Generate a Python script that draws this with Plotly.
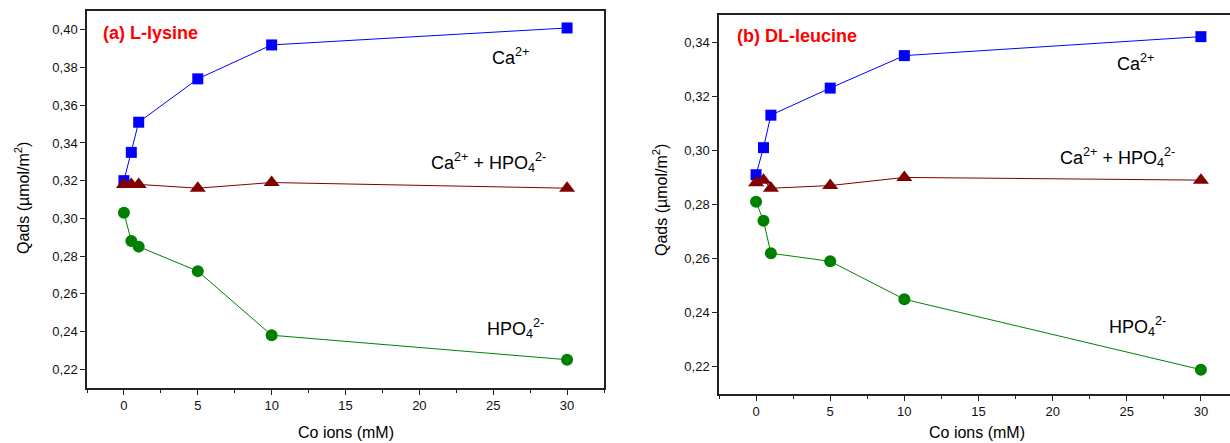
import plotly.graph_objects as go

# ---- data ----
x_conc = [0, 0.5, 1, 5, 10, 30]

lys_ca = [0.320, 0.335, 0.351, 0.374, 0.392, 0.401]
lys_cahpo = [0.318, 0.318, 0.318, 0.316, 0.319, 0.316]
lys_hpo = [0.303, 0.288, 0.285, 0.272, 0.238, 0.225]

leu_ca = [0.291, 0.301, 0.313, 0.323, 0.335, 0.342]
leu_cahpo = [0.288, 0.289, 0.286, 0.287, 0.290, 0.289]
leu_hpo = [0.281, 0.274, 0.262, 0.259, 0.245, 0.219]

series_names = ["Ca<sup>2+</sup>", "Ca<sup>2+</sup> + HPO<sub>4</sub><sup>2-</sup>", "HPO<sub>4</sub><sup>2-</sup>"]
panel_titles = ["(a) L-lysine", "(b) DL-leucine"]

W, H = 1230, 443
BLUE, RED, GREEN = "#0000FF", "#800000", "#008000"
FONT = "Liberation Sans, Arial, sans-serif"

fig = go.Figure()

def add_series(xa, ya, ys, color, symbol, size):
    fig.add_trace(go.Scatter(
        x=x_conc, y=ys, xaxis=xa, yaxis=ya, mode="lines+markers",
        line=dict(color=color, width=1),
        marker=dict(color=color, symbol=symbol, size=size, line=dict(width=0)),
        showlegend=False, cliponaxis=False))

for xa, ya, ca, cahpo, hpo in [("x", "y", lys_ca, lys_cahpo, lys_hpo),
                               ("x2", "y2", leu_ca, leu_cahpo, leu_hpo)]:
    add_series(xa, ya, ca, BLUE, "square", 11)
    add_series(xa, ya, cahpo, RED, "triangle-up", 14)
    add_series(xa, ya, hpo, GREEN, "circle", 12)

def px_x(p):
    return p / W

def px_y(p):
    return 1 - p / H

axis_common = dict(
    showline=True, linecolor="#222", linewidth=1.5, showgrid=False, zeroline=False,
    ticks="outside", tickcolor="#222", ticklen=5, tickwidth=1,
    tickfont=dict(family=FONT, size=13, color="#111"),
)

xcommon = dict(axis_common, tick0=0, dtick=5, mirror=True,
               minor=dict(dtick=2.5, ticks="outside", ticklen=3, tickcolor="#222"))
ycommon = dict(axis_common, dtick=0.02, tickformat=".2f")

fig.update_layout(
    width=W, height=H, margin=dict(l=0, r=0, t=0, b=0),
    paper_bgcolor="white", plot_bgcolor="white", separators=", ",
    xaxis=dict(xcommon, domain=[px_x(87), px_x(604)], range=[-2.5, 32.5], anchor="y"),
    yaxis=dict(ycommon, domain=[px_y(388), px_y(11)], range=[0.21, 0.41], anchor="x", mirror=True),
    xaxis2=dict(xcommon, domain=[px_x(719), 1.0], range=[-2.5, (1230 - 756) / 14.83], anchor="y2"),
    yaxis2=dict(ycommon, domain=[px_y(394), px_y(15)], range=[0.21, 0.35], anchor="x2", mirror=False),
)

ann = []
def add_text(x, y, text, size=13, color="black", bold=False, xanchor="center", textangle=0):
    ann.append(dict(x=x, y=y, xref="paper", yref="paper", text=("<b>%s</b>" % text) if bold else text,
                    showarrow=False, xanchor=xanchor, yanchor="middle", textangle=textangle,
                    font=dict(family=FONT, size=size, color=color)))

# panel titles
add_text(px_x(101), px_y(33), panel_titles[0], size=18, color="#FF0000", bold=True, xanchor="left")
add_text(px_x(735), px_y(36), panel_titles[1], size=18, color="#FF0000", bold=True, xanchor="left")

# series labels
add_text(px_x(510), px_y(57), series_names[0], size=18)
add_text(px_x(488), px_y(162), series_names[1], size=18)
add_text(px_x(515), px_y(328), series_names[2], size=18)
add_text(px_x(1135), px_y(62), series_names[0], size=18)
add_text(px_x(1117), px_y(157), series_names[1], size=18)
add_text(px_x(1137), px_y(326), series_names[2], size=18)

# axis titles
ytitle = "Qads (µmol/m<sup>2</sup>)"
add_text(px_x(22), px_y(198), ytitle, size=16, textangle=-90)
add_text(px_x(660), px_y(200), ytitle, size=16, textangle=-90)
add_text(px_x(346), px_y(432), "Co ions (mM)", size=16)
add_text(px_x(977), px_y(432), "Co ions (mM)", size=16)

fig.update_layout(annotations=ann)
fig.write_html("out.html")
